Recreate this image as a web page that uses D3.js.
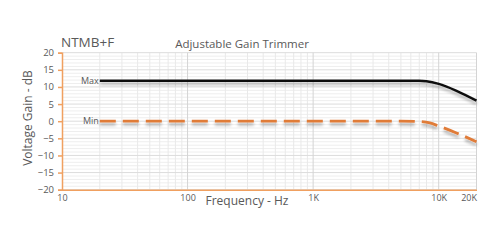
<!DOCTYPE html>
<html>
<head>
<meta charset="utf-8">
<script src="https://cdn.jsdelivr.net/npm/d3@7"></script>
<style>
  body { margin: 0; background: #fff; }
  text { font-family: "Open Sans", "Noto Sans", sans-serif; fill: #595959; }
</style>
</head>
<body>
<script>
// gain trimmer response

var w = 500, h = 244;

// frequencies (Hz) and gains (dB)
var maxFreq = [20, 100, 1000, 5000, 7000, 8000, 10000, 14000, 20000];
var maxGain = [11.8, 11.8, 11.8, 11.8, 11.78, 11.65, 10.9, 8.8, 6.0];
var minFreq = [20, 100, 1000, 5000, 7000, 8500, 10000, 14000, 20000];
var minGain = [0, 0, 0, 0, -0.1, -0.5, -1.4, -3.5, -6.0];

var yTicks = [-20, -15, -10, -5, 0, 5, 10, 15, 20];
var xTicks = [10, 100, 1000, 10000, 20000];
var xTickLabels = ["10", "100", "1K", "10K", "20K"];

// plot box (window.top is reserved, so plotTop etc.)
var plotLeft = 62, plotRight = 476.5, plotTop = 52.7, plotBottom = 189.7;

var x = d3.scaleLog().domain([10, 20000]).range([plotLeft, plotRight]);
var y = d3.scaleLinear().domain([-20, 20]).range([plotBottom, plotTop]);

var svg = d3.select("body")
    .append("svg")
    .attr("width", w)
    .attr("height", h);

var defs = svg.append("defs");
var f = defs.append("filter").attr("id", "shadow")
    .attr("x", "-5%").attr("y", "-100%").attr("width", "110%").attr("height", "400%");
f.append("feGaussianBlur").attr("in", "SourceAlpha").attr("stdDeviation", 1.5).attr("result", "b");
f.append("feOffset").attr("in", "b").attr("dy", 2.5).attr("result", "o");
f.append("feComponentTransfer").attr("in", "o").attr("result", "s")
    .append("feFuncA").attr("type", "linear").attr("slope", 0.3);
var m = f.append("feMerge");
m.append("feMergeNode").attr("in", "s");
m.append("feMergeNode").attr("in", "SourceGraphic");

// minor grid, 1 dB and 2..9 per decade
var minorY = d3.range(-20, 21, 1).filter(function(d) { return d % 5 != 0; });
svg.selectAll(".minorY")
    .data(minorY)
    .enter()
    .append("line")
    .attr("x1", plotLeft).attr("x2", plotRight)
    .attr("y1", function(d) { return y(d); })
    .attr("y2", function(d) { return y(d); })
    .attr("stroke", "#eeeeee")
    .attr("stroke-width", 1);

var minorX = [];
[10, 100, 1000, 10000].forEach(function(dec) {
    for (var k = 2; k <= 9; k++) {
        if (dec * k < 20000) minorX.push(dec * k);
    }
});
svg.selectAll(".minorX")
    .data(minorX)
    .enter()
    .append("line")
    .attr("x1", function(d) { return x(d); })
    .attr("x2", function(d) { return x(d); })
    .attr("y1", plotTop).attr("y2", plotBottom)
    .attr("stroke", "#e9e9e9")
    .attr("stroke-width", 1);

svg.selectAll(".majorY")
    .data(yTicks)
    .enter()
    .append("line")
    .attr("x1", plotLeft).attr("x2", plotRight)
    .attr("y1", function(d) { return y(d); })
    .attr("y2", function(d) { return y(d); })
    .attr("stroke", "#dcdcdc")
    .attr("stroke-width", 1);

svg.selectAll(".majorX")
    .data([100, 1000, 10000, 20000])
    .enter()
    .append("line")
    .attr("x1", function(d) { return x(d); })
    .attr("x2", function(d) { return x(d); })
    .attr("y1", plotTop).attr("y2", plotBottom)
    .attr("stroke", "#d4d4d4")
    .attr("stroke-width", 1);

// axes
var yAxis = d3.axisLeft(y).tickValues(yTicks).tickSize(4).tickPadding(4);
var gy = svg.append("g").attr("transform", "translate(" + plotLeft + ",0)").call(yAxis);
gy.select(".domain").attr("stroke", "#f0a060").attr("stroke-width", 1.5);
gy.selectAll(".tick line").attr("stroke", "#f0a060").attr("stroke-width", 1.5);
gy.selectAll(".tick text").style("font-size", "9.5px").attr("fill", "#666");

var xAxis = d3.axisBottom(x).tickValues(xTicks)
    .tickFormat(function(d, i) { return xTickLabels[i]; })
    .tickSize(0).tickPadding(5);
var gx = svg.append("g").attr("transform", "translate(0," + plotBottom + ")").call(xAxis);
gx.select(".domain").attr("stroke", "#f0a060").attr("stroke-width", 1.5);
gx.selectAll(".tick text").style("font-size", "9px").attr("fill", "#666");
gx.selectAll(".tick").filter(function(d) { return d == 20000; })
    .select("text").attr("text-anchor", "end").attr("dx", 0);

// curves
var line = d3.line()
    .x(function(d) { return x(d[0]); })
    .y(function(d) { return y(d[1]); })
    .curve(d3.curveMonotoneX);

var maxData = d3.zip(maxFreq, maxGain);
var minData = d3.zip(minFreq, minGain);

svg.append("path")
    .datum(maxData)
    .attr("d", line)
    .attr("fill", "none")
    .attr("stroke", "#111")
    .attr("stroke-width", 2.5)
    .attr("filter", "url(#shadow)");

svg.append("path")
    .datum(minData)
    .attr("d", line)
    .attr("fill", "none")
    .attr("stroke", "#e07b39")
    .attr("stroke-width", 2.8)
    .attr("stroke-dasharray", "16,7")
    .attr("filter", "url(#shadow)");

// curve labels
svg.append("text")
    .attr("x", x(maxFreq[0]) - 1).attr("y", y(maxGain[0]) + 3)
    .attr("text-anchor", "end")
    .style("font-size", "9px")
    .text("Max");
svg.append("text")
    .attr("x", x(minFreq[0]) - 1).attr("y", y(minGain[0]) + 3)
    .attr("text-anchor", "end")
    .style("font-size", "9px")
    .text("Min");

// titles
svg.append("text")
    .attr("x", 61).attr("y", 47)
    .style("font-size", "13.5px")
    .text("NTMB+F");
svg.append("text")
    .attr("x", 242).attr("y", 48)
    .attr("text-anchor", "middle")
    .style("font-size", "11.5px")
    .text("Adjustable Gain Trimmer");
svg.append("text")
    .attr("x", 247).attr("y", 205)
    .attr("text-anchor", "middle")
    .style("font-size", "12px")
    .text("Frequency - Hz");
svg.append("text")
    .attr("transform", "translate(32,118) rotate(-90)")
    .attr("text-anchor", "middle")
    .style("font-size", "12px")
    .text("Voltage Gain - dB");
</script>
</body>
</html>
